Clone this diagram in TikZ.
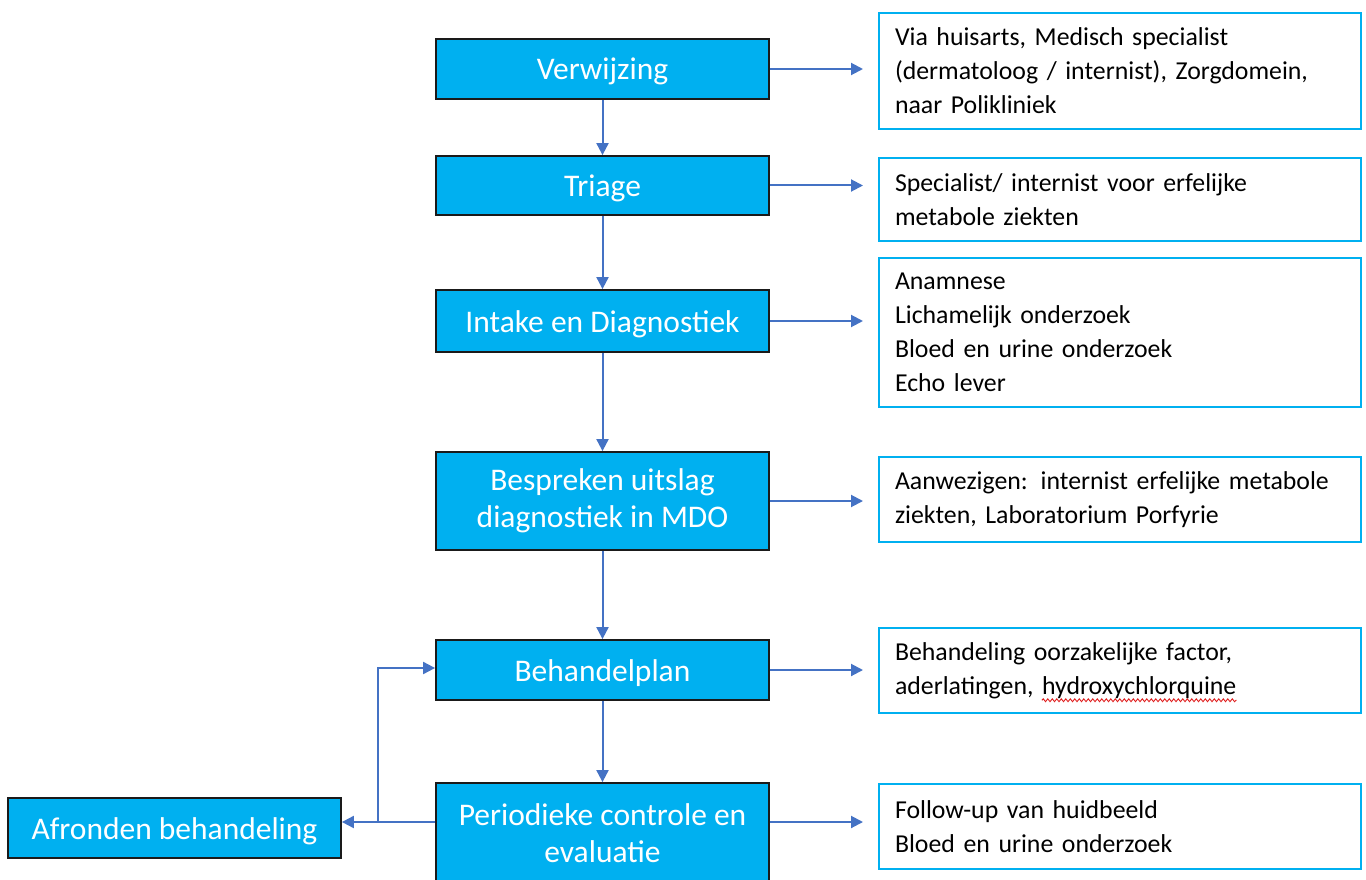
\documentclass[tikz,border=0pt]{standalone}
\usepackage{fontspec}
\setmainfont{Carlito}
\usetikzlibrary{arrows.meta,decorations.pathmorphing}
\definecolor{boxblue}{HTML}{00B0F0}
\definecolor{linkblue}{HTML}{4472C4}
\definecolor{edgegray}{HTML}{1A1A1A}
\definecolor{spellred}{HTML}{E02020}

% word with a red wavy spell-check underline
\newcommand{\spellmark}[1]{\tikz[baseline=(w.base)]{%
  \node[inner sep=0pt, draw=none, fill=none, text width={}, align=none, minimum width=0pt, minimum height=0pt] (w) {#1};
  \draw[overlay, spellred, line width=0.9pt, decorate, decoration={snake, amplitude=1.4pt, segment length=4.5pt}]
    ([yshift=-6pt]w.base west) -- ([yshift=-6pt]w.base east);}}

\begin{document}
\begin{tikzpicture}[x=1pt,y=-1pt,
  stage/.style={draw=edgegray, line width=1.8pt, fill=boxblue, text=white,
    minimum width=333pt, align=center, inner sep=0pt,
    font=\fontsize{31.5}{37}\selectfont},
  oneline/.style={text height=25pt, text depth=3pt},
  note/.style={draw=boxblue, line width=2pt, fill=white, text width=450pt,
    inner xsep=16pt, inner ysep=0pt, align=left, anchor=north west,
    font=\fontsize{25.8}{34}\selectfont},
  arr/.style={draw=linkblue, line width=2pt, -{Triangle[length=12pt,width=12pt]}},
]
\useasboundingbox (0,0) rectangle (1366,880);

% process stages
\node[stage, oneline, minimum height=60pt] (m1) at (602.5,69) {Verwijzing};
\node[stage, oneline, minimum height=59pt] (m2) at (602.5,185.5) {Triage};
\node[stage, oneline, minimum height=62pt] (m3) at (602.5,321) {Intake en Diagnostiek};
\node[stage, minimum height=98pt] (m4) at (602.5,501) {Bespreken uitslag\\diagnostiek in MDO};
\node[stage, oneline, minimum height=60pt] (m5) at (602.5,670) {Behandelplan};
\node[stage, minimum height=100pt] (m6) at (602.5,833) {Periodieke controle en\\evaluatie};
\node[stage, oneline, minimum height=60pt] (af) at (174.5,828) {Afronden behandeling};

% explanatory notes
\node[note, minimum height=116pt] (r1) at (878,12) {Via huisarts, Medisch specialist\\(dermatoloog / internist), Zorgdomein,\\naar Polikliniek};
\node[note, minimum height=83pt] (r2) at (878,157) {Specialist/ internist voor erfelijke\\metabole ziekten};
\node[note, minimum height=149pt] (r3) at (878,257) {Anamnese\\Lichamelijk onderzoek\\Bloed en urine onderzoek\\Echo lever};
\node[note, minimum height=85pt] (r4) at (878,456) {Aanwezigen: internist erfelijke metabole\\ziekten, Laboratorium Porfyrie};
\node[note, minimum height=85pt] (r5) at (878,627) {Behandeling oorzakelijke factor,\\aderlatingen, \spellmark{hydroxychlorquine}};
\node[note, minimum height=85pt] (r6) at (878,783) {Follow-up van huidbeeld\\Bloed en urine onderzoek};

% main flow
\draw[arr] (m1) -- (m2);
\draw[arr] (m2) -- (m3);
\draw[arr] (m3) -- (m4);
\draw[arr] (m4) -- (m5);
\draw[arr] (m5) -- (m6);

% links to the notes
\foreach \m/\r in {m1/r1, m2/r2, m3/r3, m4/r4, m5/r5} {
  \draw[arr, shorten >=15pt] (\m.east) -- (\m.east -| \r.west);
}
\coordinate (jn) at (378,822);
\draw[arr, shorten >=15pt] (m6.east |- jn) -- (jn -| r6.west);

% closing and feedback loop
\draw[arr] (m6.west |- jn) -- (jn) -- (jn -| af.east);
\draw[arr] (jn) |- ([yshift=2pt]m5.west);
\end{tikzpicture}
\end{document}
